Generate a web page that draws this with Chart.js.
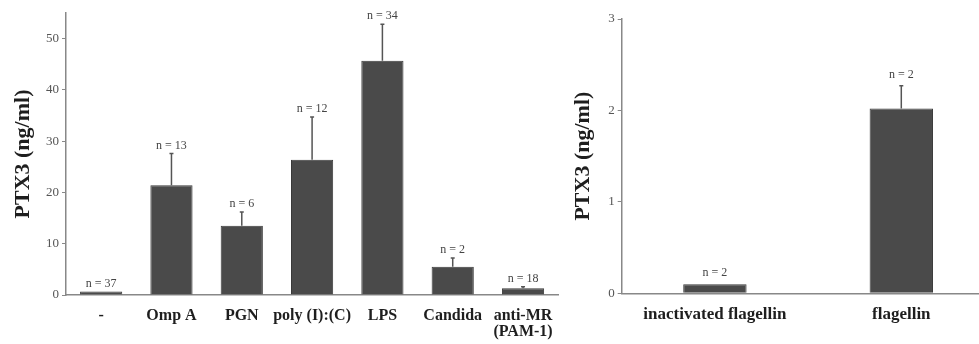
<!DOCTYPE html>
<html>
<head>
<meta charset="utf-8">
<script src="https://cdn.jsdelivr.net/npm/chart.js@4"></script>
<style>
    html, body { margin: 0; padding: 0; background: #fff; }
    #wrap { position: relative; width: 979px; height: 344px; overflow: hidden; }
    #leftBox { position: absolute; left: 0; top: 0; width: 565px; height: 344px; }
    #rightBox { position: absolute; left: 565px; top: 0; width: 440px; height: 344px; }
</style>
</head>
<body>
<div id="wrap">
    <div id="leftBox"><canvas id="leftChart"></canvas></div>
    <div id="rightBox"><canvas id="rightChart"></canvas></div>
</div>
<script>
// left panel
const leftCategories = ['-', 'Omp A', 'PGN', 'poly (I):(C)', 'LPS', 'Candida', ['anti-MR', '(PAM-1)']];
const leftMeans = [0.7, 21.4, 13.5, 26.4, 45.7, 5.5, 1.3];
const leftErrors = [0, 6.2, 2.7, 8.3, 7.1, 1.7, 0.3];
const leftN = [37, 13, 6, 12, 34, 2, 18];
const leftTicks = [0, 10, 20, 30, 40, 50];

// right panel
const rightCategories = ['inactivated flagellin', 'flagellin'];
const rightMeans = [0.1, 2.02];
const rightErrors = [0, 0.25];
const rightN = [2, 2];
const rightTicks = [0, 1, 2, 3];

const serif = "'Liberation Serif', 'Times New Roman', serif";

// draws the one-sided error bars and the "n = x" labels
const errorBarPlugin = {
    id: 'errorBars',
    afterDatasetsDraw(chart, args, opts) {
        const ctx = chart.ctx;
        const x = chart.scales.x;
        const y = chart.scales.y;
        const means = chart.data.datasets[0].data;
        ctx.save();
        means.forEach((m, i) => {
            const cx = x.getPixelForValue(i);
            const yTop = y.getPixelForValue(m);
            const yErr = y.getPixelForValue(m + opts.errors[i]);
            if (opts.errors[i] > 0) {
                ctx.strokeStyle = '#555';
                ctx.lineWidth = 1.5;
                ctx.beginPath();
                ctx.moveTo(cx, yTop);
                ctx.lineTo(cx, yErr);
                ctx.moveTo(cx - 2, yErr);
                ctx.lineTo(cx + 2, yErr);
                ctx.stroke();
            }
            ctx.fillStyle = '#444';
            ctx.font = '12px ' + serif;
            ctx.textAlign = 'center';
            ctx.textBaseline = 'middle';
            ctx.fillText('n = ' + opts.n[i], cx, yErr - opts.gap);
        });
        ctx.restore();
    }
};

const makeChart = (id, cfg) => {
    const ctx = document.getElementById(id).getContext('2d');
    return new Chart(ctx, {
        type: 'bar',
        data: {
            labels: cfg.labels,
            datasets: [{
                data: cfg.means,
                backgroundColor: '#4a4a4a',
                borderColor: '#3a3a3a',
                borderWidth: 1,
                barPercentage: cfg.barPct,
                categoryPercentage: 1
            }]
        },
        options: {
            responsive: true,
            maintainAspectRatio: false,
            animation: false,
            layout: { padding: { left: 0, right: cfg.padRight, top: cfg.padTop, bottom: 0 } },
            scales: {
                x: {
                    grid: { display: true, drawOnChartArea: false, drawTicks: false },
                    border: { display: true, color: '#888', width: 1.5 },
                    ticks: {
                        autoSkip: false,
                        maxRotation: 0,
                        padding: 12,
                        color: '#1e1e1e',
                        font: { family: serif, size: cfg.labelSize, weight: 'bold', lineHeight: 1.05 }
                    },
                    afterFit: (scale) => { scale.height = cfg.xHeight; }
                },
                y: {
                    min: 0,
                    max: cfg.yMax,
                    afterBuildTicks: (scale) => {
                        scale.ticks = cfg.ticks.map(v => ({ value: v }));
                    },
                    grid: { drawOnChartArea: false, drawTicks: true, tickLength: 4, color: '#888' },
                    border: { display: true, color: '#888', width: 1.5 },
                    ticks: {
                        padding: 3,
                        color: '#555',
                        font: { family: serif, size: 13 }
                    },
                    title: {
                        display: true,
                        text: 'PTX3 (ng/ml)',
                        color: '#1e1e1e',
                        padding: { top: cfg.titlePad, bottom: 0 },
                        font: { family: serif, size: 22, weight: 'bold' }
                    },
                    afterFit: (scale) => { scale.width = cfg.yWidth; }
                }
            },
            plugins: {
                legend: { display: false },
                tooltip: { enabled: false },
                errorBars: { errors: cfg.errors, n: cfg.n, gap: cfg.gap }
            }
        },
        plugins: [errorBarPlugin]
    });
};

makeChart('leftChart', {
    labels: leftCategories,
    means: leftMeans,
    errors: leftErrors,
    n: leftN,
    ticks: leftTicks,
    yMax: 55,
    barPct: 0.6,
    padRight: 5,
    padTop: 13,
    xHeight: 49,
    yWidth: 66,
    titlePad: 10,
    labelSize: 16,
    gap: 8
});

makeChart('rightChart', {
    labels: rightCategories,
    means: rightMeans,
    errors: rightErrors,
    n: rightN,
    ticks: rightTicks,
    yMax: 3,
    barPct: 0.34,
    padRight: 10.5,
    padTop: 19,
    xHeight: 50.7,
    yWidth: 56.7,
    titlePad: 5,
    labelSize: 17,
    gap: 11
});
</script>
</body>
</html>
